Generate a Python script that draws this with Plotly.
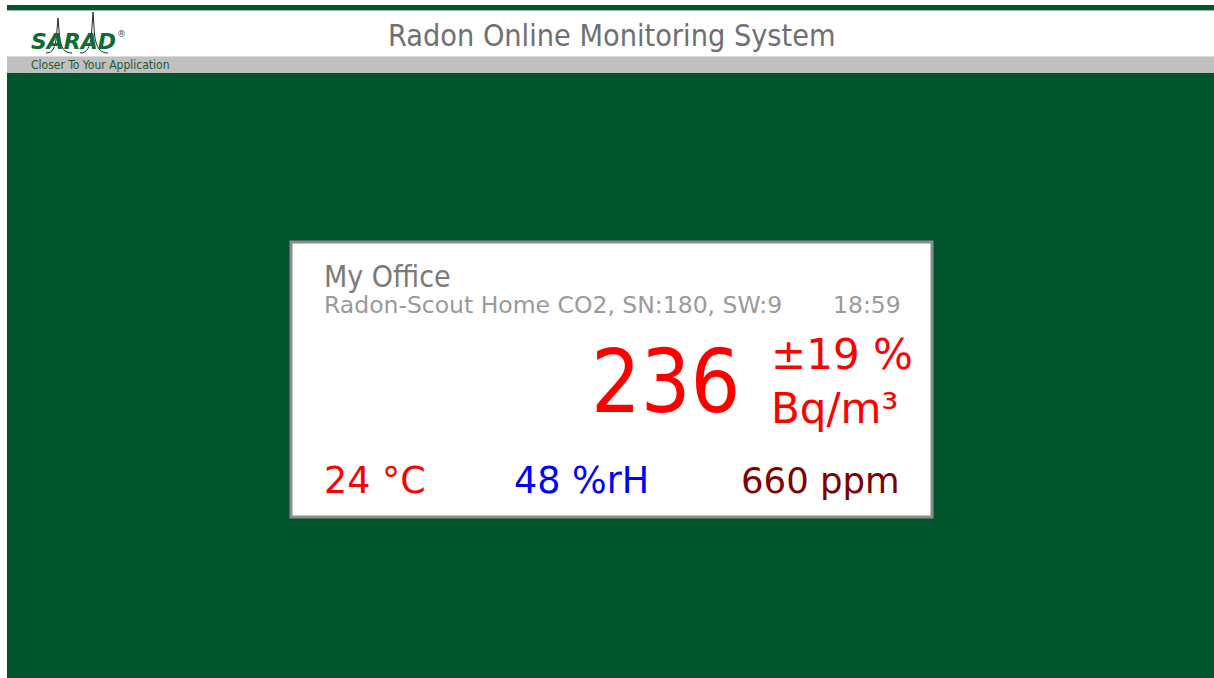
import plotly.graph_objects as go

# ---- data ----
page_title = ["Radon Online Monitoring System"]
station_name = ["My Office"]
device_info = ["Radon-Scout Home CO2, SN:180, SW:9"]
reading_time = ["18:59"]
radon_value = [236]
radon_uncertainty_pct = [19]
radon_unit = ["Bq/m³"]
temperature_c = [24]
humidity_pct = [48]
co2_ppm = [660]

W, H = 1214, 678
GREEN = "#01552c"
COND = "DejaVu Sans Condensed, DejaVu Sans, sans-serif"
NORM = "DejaVu Sans, sans-serif"

fig = go.Figure()
fig.add_trace(go.Scatter(x=[0], y=[0], mode="markers", marker=dict(opacity=0), hoverinfo="skip", showlegend=False))

shapes = [
    dict(type="rect", x0=7, x1=W, y0=5, y1=10, fillcolor=GREEN, line=dict(width=0), layer="below"),
    dict(type="rect", x0=7, x1=W, y0=10, y1=11, fillcolor="#9cbca8", line=dict(width=0), layer="below"),
    dict(type="rect", x0=7, x1=W, y0=56, y1=73, fillcolor="#c0c0c0", line=dict(width=0), layer="below"),
    dict(type="rect", x0=7, x1=W, y0=56, y1=57, fillcolor="#dadada", line=dict(width=0), layer="below"),
    dict(type="rect", x0=7, x1=W, y0=73, y1=H + 2, fillcolor=GREEN, line=dict(width=0), layer="below"),
    dict(type="rect", x0=291, x1=932, y0=242, y1=517, fillcolor="white",
         line=dict(color="#8c8c8c", width=3), layer="below"),
    # logo spikes
    dict(type="path", path="M 46,53 C 53,53 55,48 56.5,36 L 58,18 L 59.5,36 C 61,48 64,53 72,53",
         line=dict(color="#2a2a2a", width=1)),
    dict(type="path", path="M 80,53 C 87,53 90,48 91.5,34 L 93,12 L 94.5,34 C 96,48 100,53 108,53",
         line=dict(color="#2a2a2a", width=1)),
]

ann = []
def text(x, y, s, size, color, anchor="left", family=NORM):
    ann.append(dict(x=x, y=y, xref="x", yref="y", text=s, showarrow=False,
                    xanchor=anchor, yanchor="middle",
                    font=dict(size=size, color=color, family=family)))

# header
text(612, 35, page_title[0], 30.3, "#707070", "center", COND)
text(29, 41, "<b><i>SARAD</i></b>", 22, "#0e6b33", "left")
text(115, 34, "®", 9, "#0e6b33", "left")
text(29, 65, "Closer To Your Application", 12, "#1d5c2e", "left", COND)

# card
text(322, 276, station_name[0], 30, "#7a7a7a", "left", COND)
text(322, 305, device_info[0], 23.5, "#9a9a9a")
text(903, 305, reading_time[0], 23.5, "#9a9a9a", "right")
text(742, 382, f"{radon_value[0]}", 87, "#ff0000", "right", COND)
text(769, 354, f"±{radon_uncertainty_pct[0]} %", 42, "#ff0000")
text(769, 408, radon_unit[0], 42, "#ff0000")
text(322, 480, f"{temperature_c[0]} °C", 36.5, "#ff0000")
text(512, 480, f"{humidity_pct[0]} %rH", 36.5, "#0000ff")
text(902, 480, f"{co2_ppm[0]} ppm", 35.5, "#800000", "right")

fig.update_layout(
    width=W, height=H, margin=dict(l=0, r=0, t=0, b=0),
    paper_bgcolor="white", plot_bgcolor="white",
    xaxis=dict(range=[0, W], visible=False, fixedrange=True),
    yaxis=dict(range=[H, 0], visible=False, fixedrange=True),
    shapes=shapes, annotations=ann, showlegend=False,
)

fig.write_html("out.html", config={"displayModeBar": False},
               post_script="document.body.style.margin='0';document.body.style.overflow='hidden';")
